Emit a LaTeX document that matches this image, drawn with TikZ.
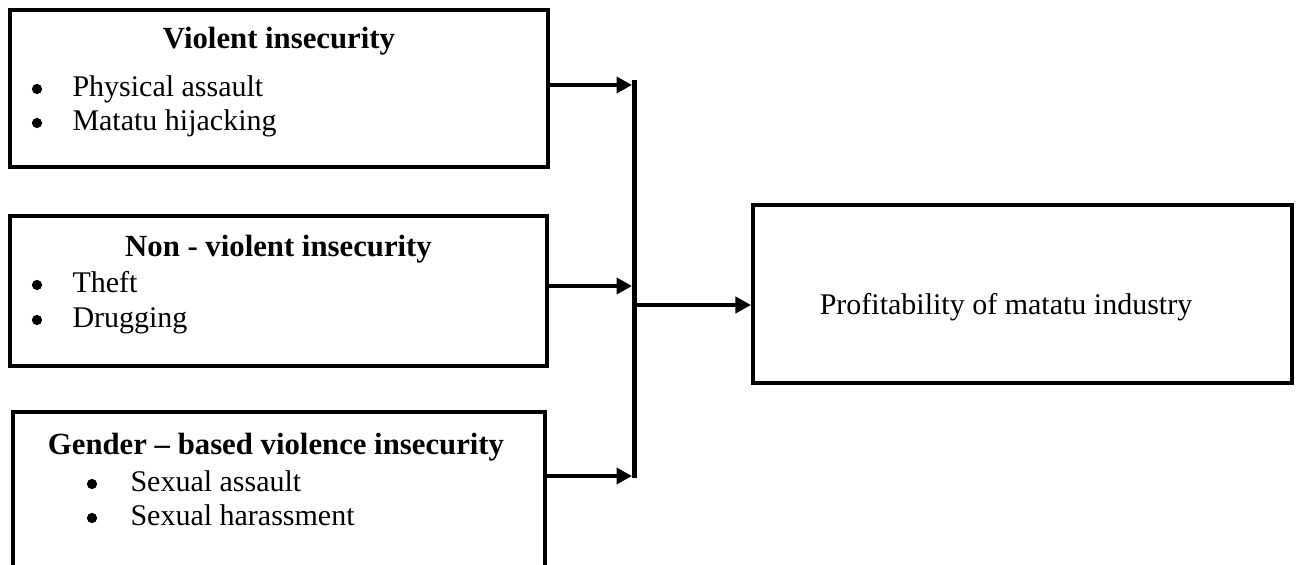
\documentclass[tikz,border=0pt]{standalone}
\usepackage{fontspec}
\setmainfont{Liberation Serif}
\usepackage{tikz}
\usetikzlibrary{arrows.meta}
\tikzstyle{factor} = [rectangle, draw=black, line width=1.6pt, inner sep=0pt]
\tikzstyle{heading} = [anchor=base, inner sep=0pt, font=\fontsize{12.3}{14}\selectfont\bfseries]
\tikzstyle{bulletpt} = [circle, fill=black, inner sep=0pt, minimum size=4.1pt]
\tikzstyle{entry} = [anchor=base west, inner sep=0pt]
\tikzstyle{arrow} = [line width=1.6pt, -{Triangle[length=6.2pt, width=6.4pt]}]

\begin{document}
\begin{tikzpicture}[x=0.4pt, y=-0.4pt, every node/.style={font=\fontsize{12}{14}\selectfont}]
    \clip (0,0) rectangle (1296,565);

    % Violent insecurity
    \node[factor, minimum width=215.2pt, minimum height=62.8pt] (violent) at (279,88.5) {};
    \node[heading] (violenttitle) at (279,49) {Violent insecurity};
    \node[bulletpt] (vb1) at (37,89) {};
    \node[entry] (vi1) at (72,97) {Physical assault};
    \node[bulletpt] (vb2) at (37,123) {};
    \node[entry] (vi2) at (72,131) {Matatu hijacking};

    % Non-violent insecurity
    \node[factor, minimum width=214.8pt, minimum height=60pt] (nonviolent) at (278.5,291) {};
    \node[heading] (nonviolenttitle) at (278.5,257) {Non - violent insecurity};
    \node[bulletpt] (nb1) at (37,285) {};
    \node[entry] (ni1) at (72,293) {Theft};
    \node[bulletpt] (nb2) at (37,320) {};
    \node[entry] (ni2) at (72,328) {Drugging};

    % Gender-based violence
    \node[factor, minimum width=212.8pt, minimum height=75.2pt] (gender) at (279,506) {};
    \node[heading] (gendertitle) at (276,455) {Gender – based violence insecurity};
    \node[bulletpt] (gb1) at (92,484) {};
    \node[entry] (gi1) at (130,492) {Sexual assault};
    \node[bulletpt] (gb2) at (92,518) {};
    \node[entry] (gi2) at (130,526) {Sexual harassment};

    % Profitability
    \node[factor, minimum width=215.6pt, minimum height=71.2pt] (profit) at (1022.5,294) {};
    \node[anchor=base, inner sep=0pt] (profittext) at (1006,315) {Profitability of matatu industry};

    % Joining bar
    \coordinate (bartop) at (634.5,80);
    \coordinate (barbottom) at (634.5,478);
    \draw[line width=2pt] (bartop) -- (barbottom);
    \coordinate (in1) at (632,85);
    \coordinate (in2) at (632,286);
    \coordinate (in3) at (632,476);
    \coordinate (out) at (634.5,305);

    % Arrows
    \draw[arrow] (violent.east |- in1) -- (in1);
    \draw[arrow] (nonviolent.east |- in2) -- (in2);
    \draw[arrow] (gender.east |- in3) -- (in3);
    \draw[arrow] (out) -- (profit.west |- out);
\end{tikzpicture}
\end{document}
